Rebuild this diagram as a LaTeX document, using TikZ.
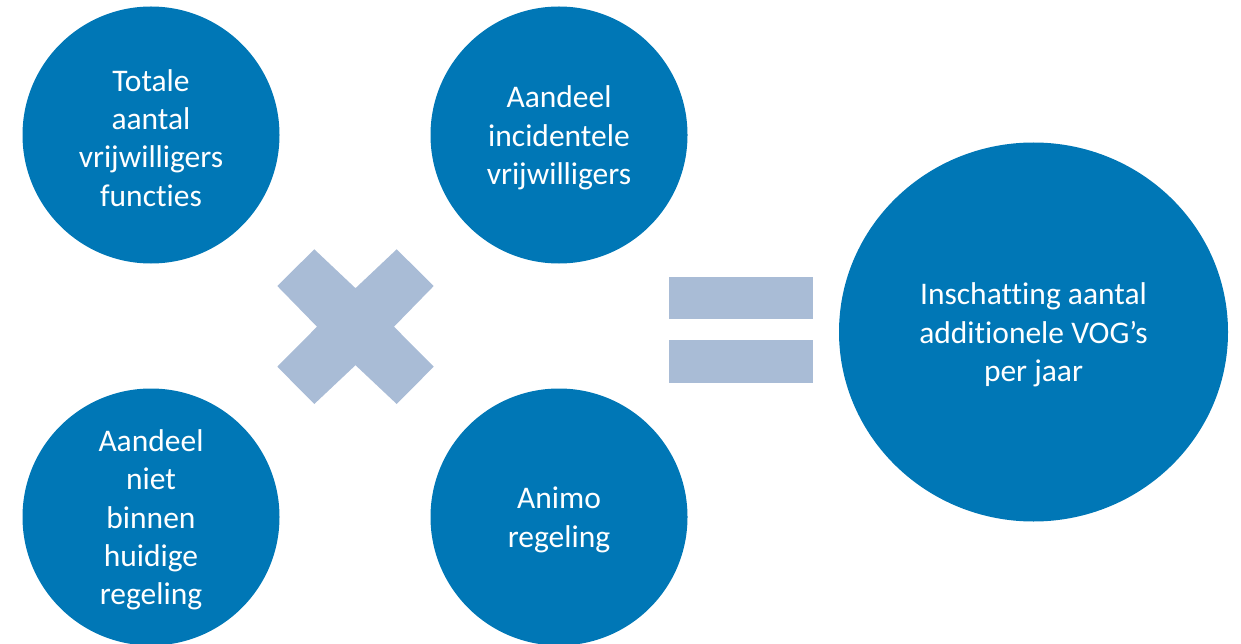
\documentclass[tikz,border=0pt]{standalone}
\usepackage{fontspec}
\setmainfont{Carlito}[Ligatures=NoCommon]
\usetikzlibrary{shapes.geometric}
\definecolor{dotblue}{RGB}{0,119,182}
\definecolor{oplight}{RGB}{169,188,214}
\tikzset{
  dottext/.style={text=white, align=center, font=\fontsize{31.5}{38.3}\selectfont, yshift=-3pt},
  dot/.style={circle, fill=dotblue, draw=none, minimum size=257pt, inner sep=0pt},
  bigdot/.style={ellipse, fill=dotblue, draw=none, minimum width=389pt, minimum height=379pt, inner sep=0pt},
  opshape/.style={fill=oplight, draw=none}
}
\begin{document}
\begin{tikzpicture}[x=1pt,y=-1pt]
\useasboundingbox (0,0) rectangle (1241,644);
\begin{scope}
\clip (0,0) rectangle (1241,644);
\node[dot, label={[dottext]center:{Totale\\aantal\\vrijwilligers\\functies}}] (tl) at (151,135) {};
\node[dot, label={[dottext]center:{Aandeel\\incidentele\\vrijwilligers}}] (tm) at (559,135) {};
\node[dot, label={[dottext]center:{Aandeel\\niet\\binnen\\huidige\\regeling}}] (bl) at (151,517) {};
\node[dot, label={[dottext]center:{Animo\\regeling}}] (bm) at (559,517) {};
\node[bigdot, label={[dottext]center:{Inschatting aantal\\additionele VOG’s\\per jaar}}] (res) at (1033.5,332) {};
\end{scope}
% multiply sign
\fill[opshape] (314.3,249.3) -- (355.5,288.2) -- (396.7,249.3) -- (433.7,286) -- (394,326.7)
  -- (433.7,366.7) -- (396.7,404) -- (355.5,365.2) -- (314.3,404) -- (277.3,366.7)
  -- (317,326.7) -- (277.3,286) -- cycle;
% equals sign
\fill[opshape] (669,276.7) rectangle (813.3,319.3);
\fill[opshape] (669,340.3) rectangle (813.3,382.7);
\end{tikzpicture}
\end{document}
